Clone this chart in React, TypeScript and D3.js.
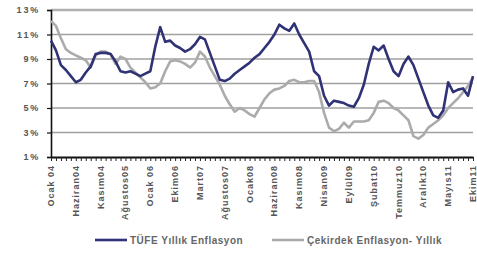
import React, { useEffect, useRef } from 'react';
import * as d3 from 'd3';

// x axis labels, one every 5 categories
const tickLabels = [
  'Ocak 04', 'Haziran04', 'Kasım04', 'Ağustos05', 'Ocak 06', 'Ekim06',
  'Mart07', 'Ağustos07', 'Ocak08', 'Haziran08', 'Kasım08', 'Nisan09',
  'Eylül09', 'Şubat10', 'Temmuz10', 'Aralık10', 'Mayıs11', 'Ekim11',
];

const tufe = [
  10.5, 9.7, 8.5, 8.1, 7.6, 7.1, 7.3, 7.9, 8.4, 9.4,
  9.5, 9.5, 9.4, 8.8, 8.0, 7.9, 8.0, 7.8, 7.6, 7.8,
  8.0, 10.0, 11.6, 10.4, 10.5, 10.1, 9.9, 9.6, 9.8, 10.2,
  10.8, 10.6, 9.5, 8.4, 7.3, 7.2, 7.4, 7.8, 8.1, 8.4,
  8.7, 9.1, 9.4, 9.9, 10.4, 11.0, 11.8, 11.5, 11.3, 11.9,
  11.0, 10.3, 9.6, 8.0, 7.6, 6.0, 5.2, 5.6, 5.5, 5.4,
  5.2, 5.1, 5.8, 6.9, 8.6, 10.0, 9.7, 10.1, 9.0, 8.0,
  7.6, 8.6, 9.2, 8.5, 7.4, 6.3, 5.2, 4.4, 4.2, 4.8,
  7.1, 6.3, 6.5, 6.6, 6.0, 7.6,
];

const cekirdek = [
  12.1, 11.7, 10.7, 9.8, 9.5, 9.3, 9.1, 8.9, 8.3, 9.3,
  9.6, 9.6, 9.4, 8.6, 9.2, 9.0, 8.3, 7.9, 7.5, 7.1,
  6.6, 6.7, 7.0, 8.0, 8.8, 8.9, 8.8, 8.6, 8.3, 8.7,
  9.6, 9.2, 8.3, 7.6, 6.9, 6.0, 5.3, 4.7, 5.0, 4.8,
  4.5, 4.3, 5.0, 5.7, 6.2, 6.5, 6.6, 6.8, 7.2, 7.3,
  7.1, 7.1, 7.2, 7.2, 6.3, 4.6, 3.4, 3.1, 3.3, 3.8,
  3.4, 3.9, 3.9, 3.9, 4.0, 4.6, 5.5, 5.6, 5.4, 5.0,
  4.8, 4.4, 4.0, 2.7, 2.5, 2.8, 3.4, 3.7, 4.0, 4.4,
  5.0, 5.4, 5.8, 6.3, 6.8, 7.5,
];

const yTicks = [1, 3, 5, 7, 9, 11, 13];

const series = [
  { name: 'TÜFE Yıllık Enflasyon', values: tufe, color: '#2f3275' },
  { name: 'Çekirdek Enflasyon- Yıllık', values: cekirdek, color: '#ababab' },
];

const W = 477, H = 256;
const margin = { left: 51, right: 4, top: 10, bottom: 99 };

const App = () => {
  const ref = useRef<SVGSVGElement>(null);

  useEffect(() => {
    const svg = d3.select(ref.current);
    svg.selectAll('*').remove();

    const n = tufe.length;
    const x = d3.scaleLinear().domain([0, n - 1]).range([margin.left, W - margin.right]);
    const y = d3.scaleLinear().domain([1, 13]).range([H - margin.bottom, margin.top]);
    const font = 'Arial, "Liberation Sans", sans-serif';

    // gridlines
    svg.append('g')
      .selectAll('line')
      .data(yTicks.slice(1))
      .enter()
      .append('line')
      .attr('x1', margin.left)
      .attr('x2', W - margin.right)
      .attr('y1', (d) => y(d))
      .attr('y2', (d) => y(d))
      .attr('stroke', (d) => (d === 13 ? '#b0b0b0' : '#a0a0a0'))
      .attr('stroke-width', (d) => (d === 13 ? 2.5 : 1.3));

    // y axis
    const yAxis = svg.append('g')
      .attr('transform', `translate(${margin.left},0)`)
      .call(d3.axisLeft(y).tickValues(yTicks).tickSize(4).tickFormat((d) => `${d}%`));
    yAxis.select('.domain').attr('stroke', '#111').attr('stroke-width', 1.6);
    yAxis.selectAll('line').attr('stroke', '#111').attr('stroke-width', 1.2);
    yAxis.selectAll('text')
      .attr('x', -11)
      .attr('font-family', font)
      .attr('font-size', 9)
      .attr('letter-spacing', 1.8)
      .attr('font-weight', 'bold')
      .attr('fill', '#555');

    // x axis with a tick per category
    const xAxis = svg.append('g')
      .attr('transform', `translate(0,${y(1)})`)
      .call(d3.axisBottom(x).tickValues(d3.range(n)).tickSize(4).tickSizeOuter(0).tickFormat(() => ''));
    xAxis.select('.domain').attr('stroke', '#111').attr('stroke-width', 1.8);
    xAxis.selectAll('line').attr('stroke', '#222').attr('stroke-width', 1);

    svg.append('g')
      .selectAll('text')
      .data(tickLabels)
      .enter()
      .append('text')
      .attr('transform', (_, i) => `translate(${x(i * 5) + 3},${y(1) + 8}) rotate(-90)`)
      .attr('text-anchor', 'end')
      .attr('font-family', font)
      .attr('font-size', 9)
      .attr('letter-spacing', 1)
      .attr('font-weight', 'bold')
      .attr('fill', '#555')
      .text((d) => d);

    // lines
    const line = d3.line<number>()
      .x((_, i) => x(i))
      .y((d) => y(d));

    svg.append('g')
      .selectAll('path')
      .data(series.slice().reverse())
      .enter()
      .append('path')
      .attr('d', (d) => line(d.values))
      .attr('fill', 'none')
      .attr('stroke', (d) => d.color)
      .attr('stroke-width', 2.6)
      .attr('stroke-linejoin', 'round');

    // legend
    const legendX = [95, 272];
    const legend = svg.append('g')
      .selectAll('g')
      .data(series)
      .enter()
      .append('g')
      .attr('transform', (_, i) => `translate(${legendX[i]},240)`);
    legend.append('line')
      .attr('x1', 0)
      .attr('x2', 32)
      .attr('stroke', (d) => d.color)
      .attr('stroke-width', 2.6);
    legend.append('text')
      .attr('x', 35)
      .attr('y', 3.5)
      .attr('font-family', font)
      .attr('font-size', 10)
      .attr('letter-spacing', 0.5)
      .attr('font-weight', 'bold')
      .attr('fill', '#666')
      .text((d) => d.name);
  }, []);

  return (
    <svg
      ref={ref}
      width={W}
      height={H}
      style={{ position: 'absolute', left: 0, top: 0, background: '#fff' }}
    />
  );
};

export default App;
